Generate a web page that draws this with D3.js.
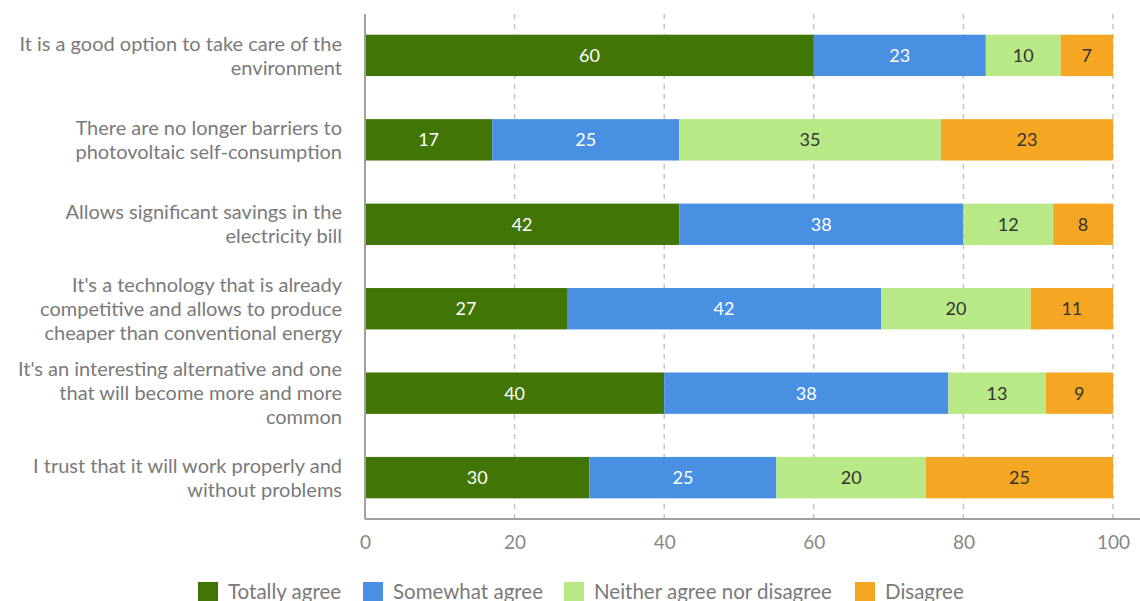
<!DOCTYPE html>
<html>
<head>
<meta charset="utf-8">
<script src="https://cdn.jsdelivr.net/npm/d3@7"></script>
<style>
  html, body { margin: 0; padding: 0; background: #fff; }
  svg { display: block; font-family: Lato, "Open Sans", sans-serif; }
</style>
</head>
<body>
<svg id="chart" width="1140" height="601"></svg>
<script>
var categories = [
    ['It is a good option to take care of the', 'environment'],
    ['There are no longer barriers to', 'photovoltaic self-consumption'],
    ['Allows significant savings in the', 'electricity bill'],
    ["It's a technology that is already", 'competitive and allows to produce', 'cheaper than conventional energy'],
    ["It's an interesting alternative and one", 'that will become more and more', 'common'],
    ['I trust that it will work properly and', 'without problems']
];
var seriesNames = ['Totally agree', 'Somewhat agree', 'Neither agree nor disagree', 'Disagree'];
var totallyAgree = [60, 17, 42, 27, 40, 30];
var somewhatAgree = [23, 25, 38, 42, 38, 25];
var neitherAgree = [10, 35, 12, 20, 13, 20];
var disagree = [7, 23, 8, 11, 9, 25];
var xTicks = [0, 20, 40, 60, 80, 100];

var colors = ['#417505', '#4a90e2', '#b8e986', '#f5a623'];
var labelColors = ['#ffffff', '#ffffff', '#333333', '#333333'];

var plotLeft = 365, plotRight = 1113, plotTop = 14, plotBottom = 519;
var svg = d3.select('#chart');

var rows = categories.map(function (c, i) {
    return {
        idx: i,
        'Totally agree': totallyAgree[i],
        'Somewhat agree': somewhatAgree[i],
        'Neither agree nor disagree': neitherAgree[i],
        'Disagree': disagree[i]
    };
});

var x = d3.scaleLinear().domain([0, 100]).range([plotLeft, plotRight]);
var y = d3.scaleBand().domain(d3.range(categories.length)).range([plotTop, plotBottom])
    .paddingInner(0.51).paddingOuter(0.245);

// dashed grid lines
svg.append('g').selectAll('line')
    .data(xTicks.filter(function (t) { return t > 0; }))
    .join('line')
    .attr('x1', function (d) { return x(d); })
    .attr('x2', function (d) { return x(d); })
    .attr('y1', plotTop)
    .attr('y2', plotBottom)
    .attr('stroke', '#c4c4c4')
    .attr('stroke-width', 1.5)
    .attr('stroke-dasharray', '5,5');

var stacked = d3.stack().keys(seriesNames)(rows);

var layers = svg.append('g').selectAll('g')
    .data(stacked)
    .join('g')
    .attr('fill', function (d, i) { return colors[i]; });

layers.selectAll('rect')
    .data(function (d) { return d; })
    .join('rect')
    .attr('x', function (d) { return x(d[0]); })
    .attr('width', function (d) { return x(d[1]) - x(d[0]); })
    .attr('y', function (d) { return y(d.data.idx); })
    .attr('height', y.bandwidth());

// value labels inside the segments
stacked.forEach(function (layer, k) {
    svg.append('g').selectAll('text')
        .data(layer)
        .join('text')
        .attr('x', function (d) { return (x(d[0]) + x(d[1])) / 2; })
        .attr('y', function (d) { return y(d.data.idx) + y.bandwidth() / 2; })
        .attr('dy', '0.36em')
        .attr('text-anchor', 'middle')
        .attr('font-size', 18)
        .attr('fill', labelColors[k])
        .text(function (d) { return d[1] - d[0]; });
});

// axes
var xAxis = d3.axisBottom(x).tickValues(xTicks).tickSize(0).tickPadding(17);
var gx = svg.append('g')
    .attr('transform', 'translate(0,' + plotBottom + ')')
    .call(xAxis);
gx.select('.domain').remove();
gx.selectAll('text').attr('font-size', 19).attr('fill', '#888').attr('font-family', 'Lato');

svg.append('line')
    .attr('x1', plotLeft).attr('x2', 1140)
    .attr('y1', plotBottom).attr('y2', plotBottom)
    .attr('stroke', '#a0a0a0').attr('stroke-width', 2);
svg.append('line')
    .attr('x1', plotLeft).attr('x2', plotLeft)
    .attr('y1', plotTop).attr('y2', plotBottom)
    .attr('stroke', '#a0a0a0').attr('stroke-width', 2);

// category labels, wrapped
var lineH = 24;
svg.append('g').selectAll('text')
    .data(categories)
    .join('text')
    .attr('text-anchor', 'end')
    .attr('font-size', 20)
    .attr('fill', '#7a7a7a')
    .each(function (lines, i) {
        var cy = y(i) + y.bandwidth() / 2;
        var start = cy - (lines.length - 1) * lineH / 2;
        d3.select(this).selectAll('tspan')
            .data(lines)
            .join('tspan')
            .attr('x', 342)
            .attr('y', function (d, j) { return start + j * lineH; })
            .attr('dy', '0.36em')
            .text(function (d) { return d; });
    });

// legend
var legendX = [198, 363, 564, 855];
var legend = svg.append('g').selectAll('g')
    .data(seriesNames)
    .join('g')
    .attr('transform', function (d, i) { return 'translate(' + legendX[i] + ',582)'; });
legend.append('rect')
    .attr('width', 20).attr('height', 20)
    .attr('fill', function (d, i) { return colors[i]; });
legend.append('text')
    .attr('x', 30).attr('y', 10).attr('dy', '0.36em')
    .attr('font-size', 20.5)
    .attr('fill', '#7a7a7a')
    .text(function (d) { return d; });
</script>
</body>
</html>
